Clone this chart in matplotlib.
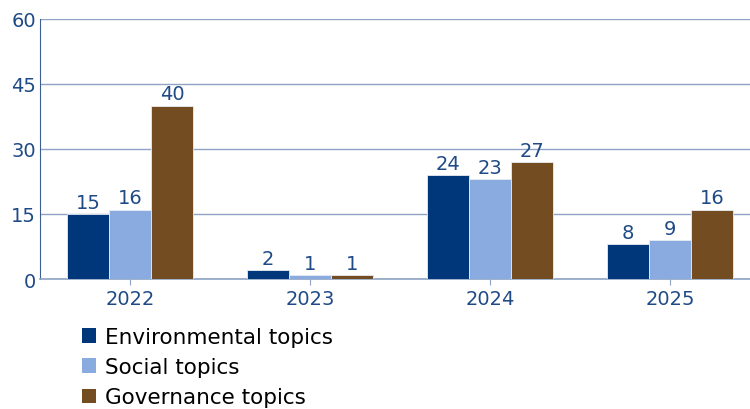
import numpy as np
import matplotlib.pyplot as plt
from matplotlib.patches import Patch

# data
years = ['2022', '2023', '2024', '2025']
environmental = [15, 2, 24, 8]
social = [16, 1, 23, 9]
governance = [40, 1, 27, 16]
series_names = ['Environmental topics', 'Social topics', 'Governance topics']
y_ticks = [0, 15, 30, 45, 60]

COLORS = ['#00367a', '#8aabdf', '#734c21']
TXT = '#1f4a86'
GRID = '#8fa3c4'

fig = plt.figure(figsize=(7.5, 4.1), dpi=100)
ax = fig.add_axes([40/750, 1 - 280/410, 720/750, 260/410])

x = np.arange(len(years))
w = 0.233
for i, (vals, col) in enumerate(zip([environmental, social, governance], COLORS)):
    pos = x + (i - 1) * w
    ax.bar(pos, vals, width=w, color=col, edgecolor='#e8ecf2', linewidth=0.6, zorder=3)
    for p, v in zip(pos, vals):
        ax.text(p, v + 0.5, str(v), ha='center', va='bottom', color=TXT, fontsize=14, zorder=4)

ax.set_xlim(-0.5, 3.5)
ax.set_ylim(0, 60)
ax.set_yticks(y_ticks)
ax.set_xticks(x)
ax.set_xticklabels(years)
ax.yaxis.grid(True, color=GRID, linewidth=1, zorder=0)
ax.tick_params(axis='y', length=0, colors=TXT, labelsize=14, pad=3)
ax.tick_params(axis='x', length=4, color=GRID, colors=TXT, labelsize=14, pad=3)
for s in ['top', 'right']:
    ax.spines[s].set_visible(False)
ax.spines['left'].set_color('#3b5f95')
ax.spines['bottom'].set_color(GRID)
ax.spines['bottom'].set_linewidth(1.2)

handles = [Patch(facecolor=c, edgecolor='none') for c in COLORS]
fig.legend(handles, series_names, loc='lower left', bbox_to_anchor=(71/750, -0.022),
           frameon=False, fontsize=15.5, handlelength=0.65, handleheight=0.65,
           handletextpad=0.45, labelspacing=0.47, borderaxespad=0.1)

fig.savefig('out.png', dpi=100)
